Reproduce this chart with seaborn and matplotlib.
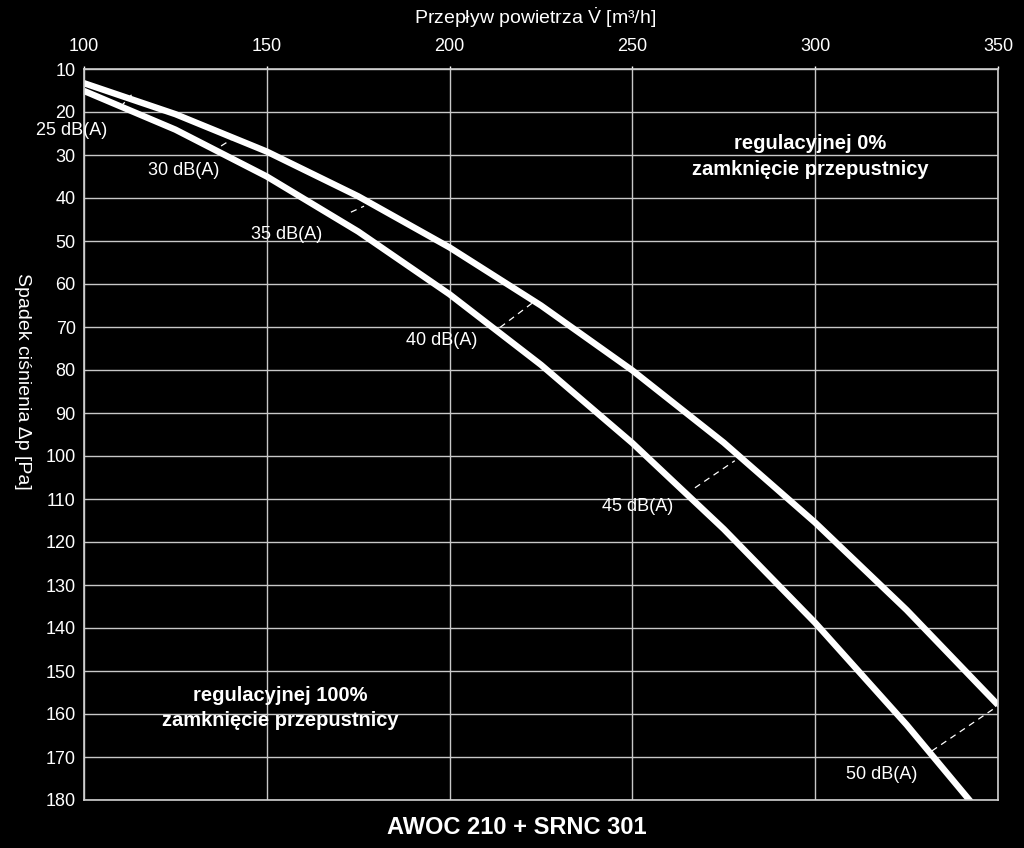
import numpy as np
import pandas as pd
import matplotlib
matplotlib.use("Agg")
import matplotlib.pyplot as plt
import seaborn as sns

# ---- data ----
flow = [100, 125, 150, 175, 200, 225, 250, 275, 300, 325, 350]
dp_open = [13.3, 20.5, 29.2, 39.6, 51.5, 65.0, 80.1, 96.9, 115.5, 135.8, 157.9]     # 0%
dp_closed = [15.1, 24.1, 35.0, 47.8, 62.4, 78.8, 97.0, 117.0, 138.8, 162.5, 188.0]  # 100%

noise_labels = ["25 dB(A)", "30 dB(A)", "35 dB(A)", "40 dB(A)", "45 dB(A)", "50 dB(A)"]
# iso-noise dashed segments (from closed curve to open curve)
iso_x1 = [110.0, 137.5, 173.0, 213.8, 267.1, 331.9]
iso_y1 = [18.8, 27.9, 43.3, 70.1, 107.4, 168.6]
iso_x2 = [113.0, 140.5, 176.6, 222.5, 278.0, 350.0]
iso_y2 = [16.0, 26.3, 41.9, 64.5, 101.1, 158.1]
# label anchor points
lab_x = [96.7, 127.4, 155.4, 197.9, 251.5, 318.3]
lab_y = [24.4, 33.5, 48.4, 73.1, 111.8, 174.0]

x_ticks = [100, 150, 200, 250, 300, 350]
y_ticks = list(range(10, 181, 10))

title = "AWOC 210 + SRNC 301"
x_label = r"Przepływ powietrza $\dot{\mathrm{V}}$ [m³/h]"
y_label = "Spadek ciśnienia Δp [Pa]"
note_open = "regulacyjnej 0%\nzamknięcie przepustnicy"
note_closed = "regulacyjnej 100%\nzamknięcie przepustnicy"

df = pd.DataFrame({
    "flow": flow * 2,
    "dp": dp_open + dp_closed,
    "curve": ["0%"] * len(flow) + ["100%"] * len(flow),
})

sns.set_theme(style="dark")
plt.rcParams['font.family'] = ['Liberation Sans', 'DejaVu Sans']
plt.rcParams['mathtext.fontset'] = 'custom'
plt.rcParams['mathtext.rm'] = 'Liberation Sans'
plt.rcParams['mathtext.it'] = 'Liberation Sans:italic'
plt.rcParams['axes.facecolor'] = 'black'
plt.rcParams['figure.facecolor'] = 'black'

fig = plt.figure(figsize=(10.24, 8.48), dpi=100)
ax = fig.add_axes([84 / 1024, 1 - 800 / 848, (998 - 84) / 1024, (800 - 69) / 848])
ax.set_facecolor('black')

sns.lineplot(data=df, x="flow", y="dp", hue="curve", palette=["white", "white"],
             linewidth=4.6, legend=False, ax=ax, estimator=None, sort=True)
for line in ax.get_lines():
    line.set_solid_capstyle('butt')
    line.set_solid_joinstyle('round')

for x1, y1, x2, y2 in zip(iso_x1, iso_y1, iso_x2, iso_y2):
    ax.plot([x1, x2], [y1, y2], color='white', linewidth=0.9, linestyle=(0, (5, 4)))

for t, x, y in zip(noise_labels, lab_x, lab_y):
    ax.text(x, y, t, color='white', fontsize=13, ha='center', va='center', clip_on=False)

ax.text(298.6, 30.4, note_open, color='white', fontsize=14.5, fontweight='bold',
        ha='center', va='center', linespacing=1.45)
ax.text(153.6, 158.6, note_closed, color='white', fontsize=14.5, fontweight='bold',
        ha='center', va='center', linespacing=1.45)

ax.set_xlim(100, 350)
ax.set_ylim(180, 10)
ax.set_xticks(x_ticks)
ax.set_yticks(y_ticks)
ax.xaxis.tick_top()
ax.tick_params(axis='both', colors='white', labelsize=13, length=2, width=1)
ax.tick_params(axis='x', pad=8)
ax.tick_params(axis='y', pad=4)
ax.grid(True, color='#c8c8c8', linewidth=1.0)
for s in ax.spines.values():
    s.set_visible(True)
    s.set_color('#d0d0d0')
    s.set_linewidth(1.2)
ax.set_xlabel("")
ax.set_ylabel("")

fig.text(535 / 1024, 1 - 18 / 848, x_label, color='white', fontsize=14,
         ha='center', va='center')
fig.text(22 / 1024, 1 - 381 / 848, y_label, color='white', fontsize=14,
         ha='center', va='center', rotation=270)
fig.text(517 / 1024, 1 - 828 / 848, title, color='white', fontsize=17,
         fontweight='bold', ha='center', va='center')

fig.savefig("out.png", dpi=100, facecolor='black')
